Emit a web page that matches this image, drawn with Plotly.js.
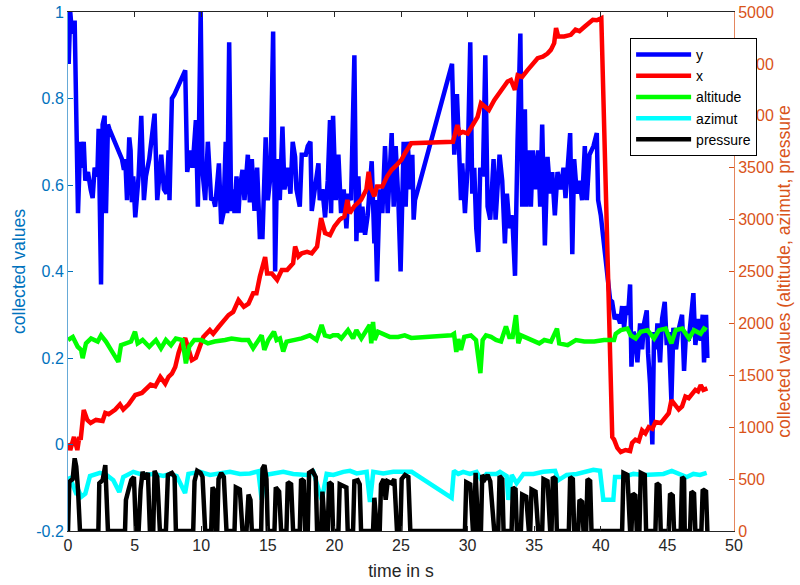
<!DOCTYPE html>
<html>
<head>
<meta charset="utf-8">
<script src="https://cdn.plot.ly/plotly-3.0.1.min.js"></script>
<style>html,body{margin:0;padding:0;background:#fff;}#chart{width:800px;height:585px;}</style>
</head>
<body>
<div id="chart"></div>
<script>
// ---- data ----
const yT = [0.05,0.17,0.3,0.5,0.75,0.92,1.02,1.18,1.3,1.5,1.7,1.85,2.0,2.2,2.3,2.48,2.6,2.75,2.85,3.0,3.1,4.05,4.2,4.3,4.43,4.6,4.7,4.8,4.9,5.05,5.3,5.5,5.7,5.85,6.1,6.5,6.7,6.85,7.0,7.2,7.4,7.55,7.62,7.8,8.0,8.8,8.95,9.2,9.35,9.6,9.75,9.96,10.1,10.3,10.5,10.75,10.9,11.05,11.33,11.5,11.67,11.84,11.95,12.1,12.25,12.4,12.5,12.65,12.8,12.9,13.1,13.25,13.5,13.65,13.8,14.0,14.2,14.4,14.6,14.84,15.0,15.2,15.4,15.55,15.65,15.8,15.9,16.1,16.25,16.5,16.7,16.87,17.05,17.15,17.4,17.55,17.85,18.0,18.2,18.3,18.5,18.8,18.9,19.1,19.3,19.5,19.67,19.75,19.9,20.1,20.3,20.5,20.7,20.9,21.05,21.25,21.5,21.65,21.8,21.95,22.1,22.3,22.5,22.8,23.0,23.05,23.2,23.4,23.6,23.8,24.0,24.15,24.3,24.45,24.6,24.8,24.97,25.2,25.35,25.5,25.7,25.85,25.95,26.05,28.83,29.0,29.2,29.35,29.5,29.6,29.8,30.0,30.2,30.35,30.5,30.65,30.8,30.95,31.15,31.33,31.5,31.7,31.85,31.95,32.1,32.4,32.6,32.8,32.95,33.15,33.35,33.56,33.75,33.96,34.1,34.3,34.4,34.6,34.75,34.9,35.1,35.3,35.45,35.6,35.8,36.0,36.2,36.35,36.55,36.75,37.0,37.2,37.35,37.55,37.7,37.86,38.0,38.2,38.4,38.6,38.8,38.95,39.15,39.45,39.7,39.8,40.0,40.7,40.85,41.05,41.25,41.45,41.6,41.75,41.9,42.05,42.2,42.3,42.45,42.6,42.75,42.95,43.1,43.25,43.45,43.55,43.7,43.87,44.0,44.15,44.25,44.45,44.6,44.8,44.95,45.1,45.3,45.45,45.65,45.8,46.0,46.1,46.25,46.4,46.6,46.75,46.95,47.1,47.3,47.5,47.65,47.75,47.9,48.0];
const yV = [0.88,1.0,0.95,0.98,0.535,0.70,0.64,0.70,0.61,0.63,0.59,0.57,0.64,0.62,0.73,0.37,0.74,0.76,0.535,0.74,0.73,0.66,0.635,0.66,0.565,0.71,0.68,0.56,0.62,0.525,0.62,0.76,0.565,0.62,0.66,0.765,0.565,0.62,0.67,0.59,0.58,0.68,0.565,0.80,0.81,0.865,0.63,0.68,0.64,0.75,0.55,1.0,0.63,0.565,0.70,0.565,0.57,0.55,0.65,0.51,0.535,0.70,0.535,0.93,0.54,0.59,0.535,0.62,0.535,0.59,0.635,0.565,0.67,0.56,0.66,0.54,0.64,0.48,0.48,0.71,0.565,0.62,0.955,0.40,0.57,0.66,0.565,0.735,0.59,0.64,0.58,0.70,0.665,0.59,0.55,0.67,0.67,0.69,0.70,0.54,0.59,0.65,0.565,0.59,0.525,0.61,0.75,0.535,0.76,0.565,0.67,0.535,0.59,0.50,0.58,0.565,0.90,0.47,0.62,0.49,0.55,0.485,0.53,0.655,0.465,0.565,0.377,0.59,0.535,0.69,0.535,0.62,0.72,0.55,0.69,0.565,0.40,0.70,0.55,0.70,0.59,0.67,0.52,0.565,0.88,0.67,0.81,0.69,0.565,0.65,0.535,0.64,0.93,0.58,0.64,0.50,0.445,0.64,0.62,0.90,0.55,0.52,0.59,0.66,0.52,0.67,0.61,0.465,0.58,0.50,0.53,0.39,0.70,0.95,0.55,0.775,0.55,0.68,0.55,0.68,0.59,0.68,0.55,0.74,0.46,0.665,0.58,0.63,0.53,0.63,0.59,0.64,0.57,0.64,0.72,0.44,0.66,0.58,0.61,0.565,0.69,0.565,0.67,0.69,0.72,0.565,0.53,0.334,0.33,0.29,0.30,0.28,0.32,0.27,0.32,0.30,0.37,0.18,0.26,0.25,0.19,0.28,0.22,0.28,0.31,0.21,0.14,0.0,0.26,0.22,0.28,0.19,0.29,0.33,0.23,0.26,0.10,0.27,0.22,0.26,0.29,0.30,0.17,0.26,0.24,0.28,0.35,0.23,0.29,0.24,0.30,0.19,0.30,0.20];

const xT = [0.05,0.17,0.45,0.7,0.85,0.95,1.18,1.45,1.7,2.1,2.6,2.8,3.05,3.55,3.9,4.15,4.55,4.8,5.05,5.55,5.95,6.2,6.55,6.93,7.3,7.55,7.8,8.05,8.3,8.55,8.8,9.3,9.6,9.9,10.16,10.65,10.9,11.3,11.67,12.05,12.4,12.8,13.2,13.55,13.9,14.15,14.4,14.8,14.95,15.3,15.7,16.05,16.45,16.9,17.05,17.3,17.55,17.95,18.3,18.7,19.0,19.3,19.67,20.0,20.4,20.75,20.97,21.15,21.5,22.0,22.4,22.57,22.75,23.0,23.2,23.6,23.95,24.3,24.7,25.05,25.3,25.77,28.9,29.23,29.4,29.63,30.0,30.4,30.75,31.0,31.25,31.6,32.0,32.5,33.0,33.25,33.55,33.76,34.1,34.5,34.85,35.26,35.65,36.0,36.25,36.5,36.64,36.8,37.25,37.75,38.1,38.4,38.8,39.05,39.4,39.7,40.04,40.86,41.0,41.24,41.5,41.85,42.2,42.35,42.6,42.85,43.1,43.35,43.6,43.87,44.1,44.5,44.8,45.1,45.3,45.5,45.85,46.1,46.35,46.6,46.85,47.1,47.3,47.5,47.7,48.0];
const xV = [848,780,906,780,906,880,1166,1069,1040,1070,1060,1137,1125,1170,1220,1170,1220,1265,1310,1330,1380,1410,1395,1485,1420,1485,1515,1580,1715,1810,1857,1647,1670,1775,1870,1935,1900,1965,2030,2080,2110,2225,2160,2190,2290,2290,2450,2640,2480,2480,2420,2515,2515,2580,2740,2645,2675,2690,2675,2740,3015,2870,2850,2935,3000,3030,3190,3060,3130,3190,3290,3460,3300,3225,3320,3320,3415,3480,3530,3580,3640,3735,3750,3910,3830,3845,3830,3925,3990,4120,4090,4055,4150,4250,4330,4345,4250,4390,4375,4440,4490,4555,4570,4600,4635,4700,4845,4765,4765,4780,4830,4815,4860,4890,4925,4920,4940,906,880,800,760,780,770,848,880,865,970,940,1000,985,1050,1040,1085,1135,1260,1230,1170,1200,1295,1280,1330,1360,1345,1405,1360,1375];

const altT = [0.0,0.36,0.73,0.98,1.1,1.35,1.73,2.23,2.48,2.85,3.23,3.78,3.98,4.35,4.73,5.03,5.23,5.6,6.1,6.6,6.98,7.35,7.73,8.1,8.6,8.85,9.1,9.48,10.0,10.5,11.0,11.79,12.28,13.04,13.54,13.9,14.29,14.54,14.74,15.04,15.46,15.66,15.91,16.16,16.41,17.04,17.54,18.16,18.66,19.04,19.29,19.67,19.9,20.27,20.52,21.02,21.4,21.65,22.02,22.65,22.77,22.9,23.02,23.27,23.77,24.15,24.78,25.28,25.77,28.78,28.98,29.15,29.3,29.5,29.75,30.25,30.63,30.96,31.13,31.38,31.76,32.13,32.51,32.88,33.13,33.38,33.63,33.81,34.01,34.51,34.88,35.38,35.76,36.26,36.71,36.88,37.51,38.13,38.76,39.51,40.24,40.99,41.12,41.5,42.0,42.25,42.62,43.0,43.5,44.0,44.37,44.87,45.3,45.62,46.12,46.62,47.0,47.5,47.75,47.95];
const altV = [1840,1870,1775,1745,1665,1808,1855,1825,1885,1825,1745,1630,1790,1808,1825,1920,1808,1840,1775,1840,1760,1840,1790,1855,1840,1615,1775,1840,1840,1808,1825,1840,1855,1840,1840,1760,1840,1885,1745,1840,1920,1840,1855,1730,1825,1840,1855,1885,1840,1985,1885,1870,1885,1885,1855,1935,1855,1935,1855,1985,1808,2015,1840,1920,1885,1870,1870,1885,1860,1885,1900,1725,1850,1745,1870,1885,1840,1520,1840,1885,1870,1840,1825,1970,1870,1870,2080,1808,1885,1855,1840,1808,1840,1825,1950,1808,1790,1840,1825,1825,1840,1840,1900,1935,1950,1885,1855,1920,1935,1855,1935,1950,1808,1935,1950,1855,1935,1900,1950,1935];

const azT = [0.1,0.28,0.65,0.75,1.0,1.3,1.65,2.4,2.9,3.4,3.85,4.15,4.9,5.65,6.4,7.16,7.66,8.16,8.79,9.04,9.91,10.66,11.41,12.16,12.91,13.66,14.29,14.54,14.79,15.41,16.16,16.91,17.66,17.92,18.42,19.05,19.42,19.92,20.67,21.17,21.67,22.42,22.67,22.92,23.67,24.42,25.17,25.8,28.8,28.97,29.3,29.67,30.17,30.67,31.05,31.42,32.17,32.43,32.93,33.06,33.31,33.68,34.19,34.94,35.69,36.57,36.82,37.44,38.19,38.94,39.44,39.94,40.19,40.94,41.07,41.7,42.45,43.2,43.95,44.7,45.33,45.95,46.45,46.95,47.45,47.95];
const azV = [530,460,350,400,330,360,530,560,540,490,375,520,570,540,550,530,550,530,365,550,570,540,550,570,550,555,575,300,540,550,570,550,540,540,570,300,550,540,570,580,555,570,280,570,555,570,570,570,320,580,550,570,550,570,490,550,550,570,530,300,540,460,550,550,570,580,490,540,550,570,590,580,300,300,520,520,550,540,550,550,580,550,520,550,540,560];

const prT = [0.0,0.1,0.35,0.5,0.62,0.75,0.9,2.28,2.35,2.6,2.8,2.95,3.0,4.28,4.35,4.55,4.75,4.95,5.1,5.3,5.45,5.6,5.8,6.0,6.15,6.4,6.5,6.7,6.9,7.35,7.5,7.8,8.0,8.1,9.4,9.5,9.7,9.95,10.1,10.3,10.75,10.85,11.05,11.1,11.2,11.3,11.5,11.7,11.9,12.5,12.6,12.9,13.1,13.4,13.55,13.7,13.8,14.5,14.6,14.75,14.9,15.0,15.5,15.6,15.85,16.0,16.4,16.5,16.75,16.9,17.4,17.5,17.7,17.8,18.0,18.1,18.35,18.6,18.7,19.0,19.1,19.3,19.5,19.6,19.8,19.9,20.3,20.4,20.7,20.9,21.0,21.4,21.5,21.75,21.9,22.0,22.9,23.0,23.2,23.4,23.5,23.7,23.85,24.0,24.3,24.5,24.7,24.95,25.05,25.3,25.55,25.7,29.8,29.9,30.2,30.4,30.5,30.6,30.8,31.0,31.1,31.3,31.5,31.7,32.0,32.3,32.4,32.6,32.7,33.3,33.4,33.6,33.7,34.0,34.1,34.4,34.6,34.7,34.8,35.1,35.3,35.6,35.7,36.0,36.2,36.3,36.4,36.6,36.7,37.6,37.7,37.9,38.0,38.3,38.4,38.6,38.7,38.9,39.0,39.2,39.3,41.6,41.7,42.0,42.2,42.3,42.4,42.6,42.7,42.9,43.0,43.3,43.4,44.1,44.2,44.4,44.5,45.1,45.2,45.4,45.5,46.0,46.1,46.25,46.3,46.7,46.8,47.0,47.1,47.55,47.65,47.9,48.0];
const prV = [0,475,500,700,620,400,0,0,460,490,635,300,0,0,300,400,490,520,0,0,400,570,500,560,0,0,580,520,0,0,540,560,520,0,0,480,580,560,520,0,0,420,380,0,0,500,560,520,0,0,420,400,0,0,350,300,0,0,600,635,500,0,0,420,380,0,0,470,450,0,0,500,480,0,0,560,580,520,0,0,380,0,0,470,450,0,0,450,430,420,0,0,480,490,450,0,0,320,0,0,450,500,300,480,460,500,0,0,500,540,520,0,0,470,450,0,0,560,0,0,540,500,540,480,0,0,530,500,0,0,420,400,0,0,350,330,0,0,400,380,0,0,500,480,0,0,520,500,0,0,520,500,0,0,300,280,0,0,500,480,0,0,560,540,0,0,360,340,0,0,560,540,0,0,460,440,0,0,360,340,0,0,520,500,0,0,380,360,0,0,400,380,0];

const xTicks = [0,5,10,15,20,25,30,35,40,45,50];
const yTicks = [-0.2,0,0.2,0.4,0.6,0.8,1];
const yTickText = ['-0.2','0','0.2','0.4','0.6','0.8','1'];
const y2Ticks = [0,500,1000,1500,2000,2500,3000,3500,4000,4500,5000];

const FONT = 'Liberation Sans, Arial, Helvetica, sans-serif';
const LW = 4.5;
const TICK = 16, TITLE = 17.6, LEG = 14;
const traces = [
  {x:yT, y:yV, name:'y', mode:'lines', line:{color:'#0000ff', width:LW}, yaxis:'y'},
  {x:xT, y:xV, name:'x', mode:'lines', line:{color:'#ff0000', width:LW}, yaxis:'y2'},
  {x:altT, y:altV, name:'altitude', mode:'lines', line:{color:'#00ff00', width:LW}, yaxis:'y2'},
  {x:azT, y:azV, name:'azimut', mode:'lines', line:{color:'#00ffff', width:LW}, yaxis:'y2'},
  {x:prT, y:prV, name:'pressure', mode:'lines', line:{color:'#000000', width:LW}, yaxis:'y2'}
];

const layout = {
  width:800, height:585,
  margin:{l:68, r:66, t:12, b:54, pad:0},
  paper_bgcolor:'#ffffff', plot_bgcolor:'#ffffff',
  font:{family:FONT, size:TICK, color:'#262626'},
  showlegend:true,
  legend:{x:0.844, y:0.95, xanchor:'left', yanchor:'top', bgcolor:'#ffffff', bordercolor:'#000000', borderwidth:1, itemwidth:55, font:{family:FONT, size:LEG, color:'#000000'}, tracegroupgap:0},
  xaxis:{range:[0,50], tickvals:xTicks, ticks:'inside', ticklen:5, tickcolor:'#262626', showline:true, linecolor:'#262626', linewidth:1, mirror:'ticks', showgrid:false, zeroline:false, tickfont:{size:TICK, color:'#262626'}, title:{text:'time in s', font:{size:TITLE, color:'#262626'}, standoff:11}},
  yaxis:{range:[-0.2,1], tickvals:yTicks, ticktext:yTickText, ticks:'inside', ticklen:5, tickcolor:'#0072BD', showline:true, linecolor:'rgba(0,114,189,0.6)', linewidth:1, showgrid:false, zeroline:false, tickfont:{size:TICK, color:'#0072BD'}, title:{text:'collected values', font:{size:TITLE, color:'#0072BD'}, standoff:6}},
  yaxis2:{range:[0,5000], tickvals:y2Ticks, overlaying:'y', side:'right', ticks:'inside', ticklen:5, tickcolor:'#D95319', showline:true, linecolor:'rgba(217,83,25,0.7)', linewidth:1, showgrid:false, zeroline:false, tickfont:{size:TICK, color:'#D95319'}, title:{text:'collected values (altitude, azimut, pressure', font:{size:TITLE, color:'#D95319'}, standoff:4}}
};

Plotly.newPlot('chart', traces, layout, {staticPlot:true, displayModeBar:false});
</script>
</body>
</html>
